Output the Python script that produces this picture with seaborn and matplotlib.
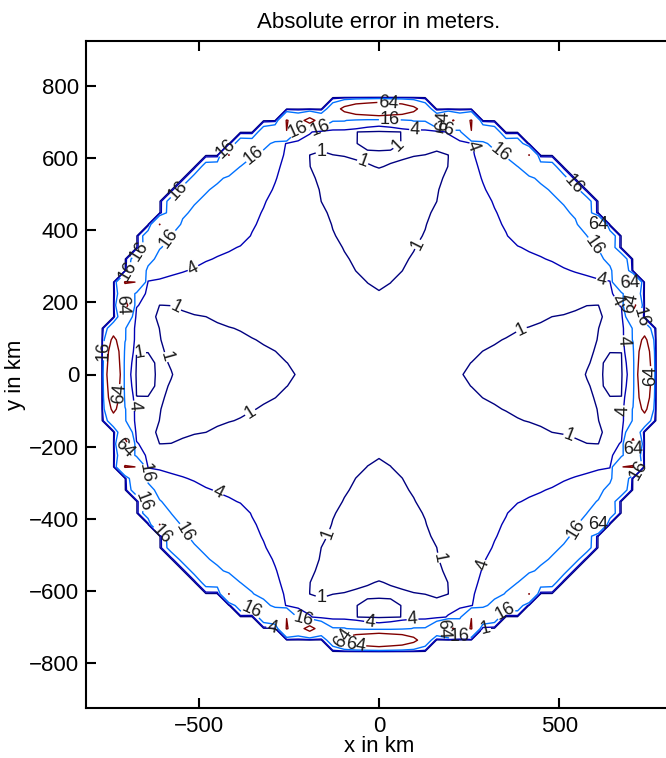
import numpy as np
import matplotlib
matplotlib.use("Agg")
import matplotlib.pyplot as plt
import seaborn as sns

# Contour levels of the absolute error, in meters
levels = [1, 4, 16, 64]

# Error field inside the disk, sampled in polar form.  Angles are folded onto
# the distance (deg) from the nearest coordinate axis, so one wedge of 0..45 deg
# describes the whole disk.
radius_nodes = [0, 150, 233, 260, 300, 400, 500, 572, 605, 640, 690]   # km
angle_nodes = [0, 6, 12, 16, 19, 22, 26, 32, 45]                        # deg
# log2 of the error (m); rows follow radius_nodes, columns follow angle_nodes
log2_error_interior = [
    [1.00, 1.00, 1.00, 1.00, 1.00, 1.00, 1.00, 1.00, 1.00],
    [0.55, 0.60, 0.70, 0.80, 0.85, 0.90, 0.95, 1.05, 1.15],
    [0.00, 0.10, 0.40, 0.60, 0.75, 0.85, 1.00, 1.15, 1.25],
    [-0.20, -0.10, 0.25, 0.45, 0.65, 0.80, 1.00, 1.20, 1.30],
    [-0.50, -0.35, -0.10, 0.20, 0.50, 0.75, 1.00, 1.25, 1.40],
    [-0.90, -0.80, -0.50, -0.15, 0.15, 0.60, 1.05, 1.50, 1.70],
    [-0.70, -0.65, -0.50, -0.25, 0.05, 0.65, 1.30, 1.75, 1.90],
    [0.00, -0.20, -0.35, -0.25, 0.05, 0.85, 1.60, 1.95, 2.30],
    [0.30, 0.10, -0.10, -0.20, 0.05, 1.00, 1.80, 2.25, 2.60],
    [-0.50, 0.05, 0.10, -0.15, 0.15, 1.25, 2.10, 2.80, 3.00],
    [-0.50, 0.10, 0.50, 0.50, 1.00, 1.80, 3.20, 3.80, 3.90],
]

# log2 of the error (m) on the outer ring of the disk
rim_angles = [0, 5, 8, 10, 13, 16, 18, 21, 24, 28, 31, 34, 37, 41, 45]   # deg
rim_log2_error = [7.2, 6.8, 6.2, 5.0, 5.4, 6.7, 5.2, 6.5, 5.0, 4.8, 4.9,
                  6.2, 4.8, 4.6, 4.5]

rim_start_km = 690
rim_full_km = 722
disk_radius_km = 750
grid_step_km = 32

# ---- build the gridded error field ---------------------------------------
xs = np.arange(-800, 801, grid_step_km)
X, Y = np.meshgrid(xs, xs)
R = np.hypot(X, Y)
theta = np.degrees(np.arctan2(Y, X)) % 90.0
phi = np.minimum(theta, 90.0 - theta)

table = np.asarray(log2_error_interior)
a_nodes = np.asarray(angle_nodes, dtype=float)


def polar_lookup(r, p):
    rf, pf = r.ravel(), p.ravel()
    cols = np.array([np.interp(rf, radius_nodes, table[:, j])
                     for j in range(len(angle_nodes))])
    idx = np.clip(np.searchsorted(a_nodes, pf, side="right") - 1,
                  0, len(a_nodes) - 2)
    t = (pf - a_nodes[idx]) / (a_nodes[idx + 1] - a_nodes[idx])
    n = np.arange(pf.size)
    v = cols[idx, n] * (1 - t) + cols[idx + 1, n] * t
    return v.reshape(r.shape)


inner = polar_lookup(np.minimum(R, rim_start_km), phi)
rim = np.interp(phi, rim_angles, rim_log2_error)
w = np.clip((R - rim_start_km) / (rim_full_km - rim_start_km), 0.0, 1.0)
log2_err = (1 - w) * inner + w * rim
error_m = np.where(R <= disk_radius_km, 2.0 ** log2_err, 0.0)

# ---- figure ----------------------------------------------------------------
sns.set_theme(style="ticks")
plt.rcParams["font.family"] = ["Liberation Sans", "DejaVu Sans"]
plt.rcParams["axes.unicode_minus"] = True
for key in ("text.color", "axes.labelcolor", "xtick.color", "ytick.color",
            "axes.edgecolor"):
    plt.rcParams[key] = "black"

W, H = 666, 758
fig = plt.figure(figsize=(W / 100, H / 100), dpi=100)
ax = fig.add_axes([86 / W, 50 / H, 586 / W, 667 / H])

jet = matplotlib.colormaps["jet"]
line_colors = [jet((lv - levels[0]) / (levels[-1] - levels[0])) for lv in levels]

cs = ax.contour(X, Y, error_m, levels=levels, colors=line_colors,
                linewidths=1.0)

# label anchors spread along the lines, snapped to the nearest contour
label_spots = [
    (25, 745), (30, 709), (-232, 692), (-163, 680), (-169, 640),
    (100, 680), (183, 681), (169, 709), (-53, 570), (58, 629),
    (108, 360), (269, 634), (341, 620), (-418, 620), (-357, 615),
    (-546, 501), (-604, 391), (-654, 335), (-515, 294), (-690, 280),
    (-717, 191), (-560, 191), (-765, 66), (-662, 61), (-571, 53),
    (-723, -53), (-670, -86), (-709, -205), (-662, -274), (-440, -316),
    (-357, -105), (-634, -349), (-598, -432), (-551, -446), (-343, -645),
    (-296, -700), (-210, -687), (-169, -640), (-150, -440), (172, -507),
    (294, -529), (-100, -731), (-66, -751), (-25, -687), (94, -687),
    (169, -709), (224, -715), (294, -709), (352, -659), (543, -427),
    (604, -404), (704, -224), (715, -260), (521, -183), (679, -100),
    (748, -3), (673, 94), (648, 199), (712, 150), (698, 197),
    (695, 247), (620, 274), (618, 371), (615, 407), (535, 524),
    (393, 127),
]
ax.clabel(cs, fmt="%d", fontsize=13, colors="k", inline=True,
          inline_spacing=1, manual=label_spots)

ax.set_xlim(-812, 812)
ax.set_ylim(-924, 924)
ax.set_xticks([-500, 0, 500])
ax.set_yticks(np.arange(-800, 801, 200))
ax.tick_params(direction="in", top=True, right=False, length=7, width=1.5,
               labelsize=16, colors="black")
ax.tick_params(axis="x", pad=6)
ax.tick_params(axis="y", pad=5)
for s in ax.spines.values():
    s.set_linewidth(1.5)
    s.set_color("black")

ax.set_title("Absolute error in meters.", fontsize=16, pad=9)
ax.set_xlabel("x in km", fontsize=16, labelpad=-1)
ax.set_ylabel("y in km", fontsize=16, labelpad=2)

fig.savefig("out.png", dpi=100)
